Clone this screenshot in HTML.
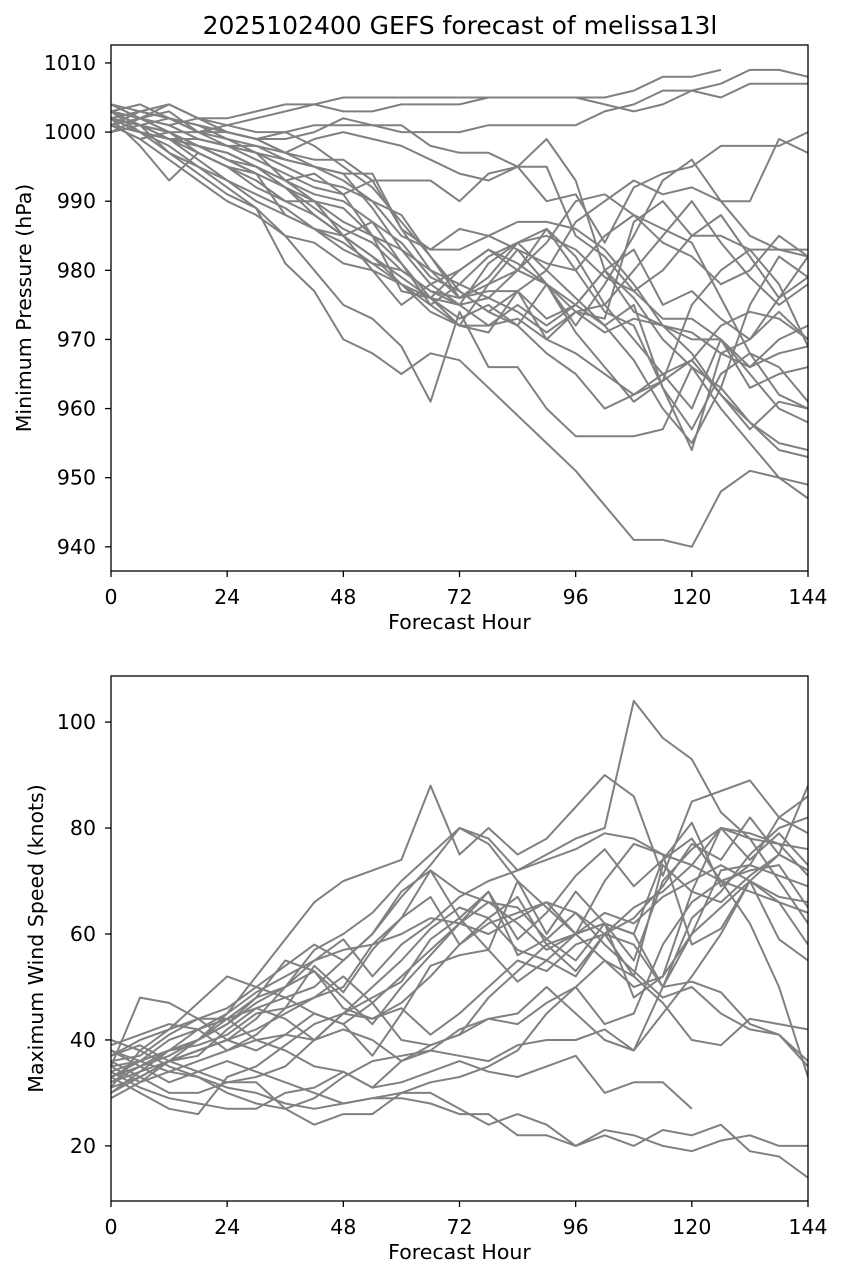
<!DOCTYPE html>
<html><head><meta charset="utf-8"><style>
body{margin:0;background:#fff}
svg text{font-family:"DejaVu Sans","Liberation Sans",sans-serif;fill:#000}
</style></head><body>
<svg id="chart" width="843" height="1279" xmlns="http://www.w3.org/2000/svg">
<rect width="843" height="1279" fill="#fff"/>
<text x="460" y="34" font-size="25" text-anchor="middle">2025102400 GEFS forecast of melissa13l</text>
<g id="top"></g><g id="bot"></g>
</svg>
<script>
const hours=[0,6,12,18,24,30,36,42,48,54,60,66,72,78,84,90,96,102,108,114,120,126,132,138,144];
const xTicks=[0,24,48,72,96,120,144];
const presTicks=[940,950,960,970,980,990,1000,1010];
const windTicks=[20,40,60,80,100];
const pressure=[
[1003,1002,1001,1002,1002,1003,1004,1004,1005,1005,1005,1005,1005,1005,1005,1005,1005,1005,1006,1008,1008,1009],
[1002,1001,1000,1000,1001,1002,1003,1004,1003,1003,1004,1004,1004,1005,1005,1005,1005,1004,1003,1004,1006,1005,1007,1007,1007],
[1001,1003,1002,1001,1000,999,1000,1001,1001,1001,1000,1000,1000,1001,1001,1001,1001,1003,1004,1006,1006,1007,1009,1009,1008,1009],
[1004,1002,1000,998,996,994,992,990,985,980,975,978,980,983,981,978,975,972,967,960,955,963,958,955,954],
[1003,1001,999,996,993,990,988,986,984,981,978,975,978,982,984,980,976,972,975,963,957,965,968,962,960],
[1003,1000,998,995,992,989,981,977,970,968,965,968,967,963,959,955,951,946,941,941,940,948,951,950,949],
[1002,1001,997,994,991,989,985,980,975,973,969,961,974,966,966,960,956,956,956,957,966,960,955,950,947],
[1001,999,996,993,990,988,985,984,981,980,978,974,972,972,975,972,975,980,976,970,966,963,975,982,979],
[1002,1000,999,997,995,993,990,990,989,985,977,976,980,983,980,978,974,971,973,972,970,970,966,970,972],
[1004,1002,1001,999,998,997,996,995,994,989,983,978,975,981,984,986,982,975,970,965,960,970,965,960,958],
[1001,1002,1004,1002,1000,999,997,995,993,990,985,983,986,985,983,981,980,985,988,984,982,978,980,985,982],
[1002,1003,1002,1001,1000,999,999,1000,1002,1001,1001,998,997,997,995,999,993,980,974,972,971,968,970,974,970],
[1003,1002,1003,1000,1000,999,997,996,996,993,993,993,990,994,995,995,985,982,977,973,973,970,963,965,966],
[1000,1001,1002,1001,999,998,996,995,994,994,986,983,983,985,987,987,986,983,978,972,968,962,958,954,953],
[1002,998,993,997,995,994,988,986,985,987,984,979,977,974,972,978,971,966,961,964,967,962,957,961,960],
[1004,1003,1002,1000,999,997,995,993,992,990,988,982,976,978,983,978,972,978,985,993,996,990,990,999,997],
[1001,1000,999,998,996,994,992,989,986,984,980,977,975,976,980,984,990,991,988,986,984,976,968,966,961],
[1002,1001,1000,998,997,995,993,991,990,987,981,976,972,971,977,970,974,973,987,990,985,985,983,983,982],
[1003,1001,999,998,996,995,992,988,985,982,979,976,973,975,972,968,965,960,962,964,975,980,983,978,969],
[1001,1000,999,999,998,998,997,999,1000,999,998,996,994,993,995,990,991,984,992,994,995,998,998,998,1000],
[1000,1002,1001,999,998,996,994,992,991,985,981,975,972,978,980,986,980,974,972,963,954,968,966,968,969],
[1002,1000,997,995,993,991,989,986,983,981,980,977,976,979,984,985,983,979,977,980,985,988,982,976,979],
[1003,1004,1002,1000,998,997,993,990,987,985,983,980,978,976,974,971,974,975,980,985,990,984,979,975,978],
[1001,999,1000,997,995,992,990,988,985,982,978,976,975,972,973,970,968,965,962,965,967,972,974,973,970],
[1002,1003,1004,1002,1001,1000,1000,998,995,992,987,982,977,974,977,980,987,990,993,991,992,990,985,983,983],
[1003,1002,1000,998,997,995,993,994,991,993,986,980,976,977,977,973,975,980,983,975,977,973,970,976,982]
];
const wind=[
[30,33,36,38,40,44,50,57,60,64,70,75,80,78,72,75,78,80,104,97,93,83,78,77,71],
[32,35,37,40,45,52,59,66,70,72,74,88,75,80,75,78,84,90,86,71,85,87,89,82,79],
[35,36,34,33,31,30,28,27,28,29,29,28,26,26,22,22,20,23,22,20,19,21,22,20,20],
[36,33,30,30,32,32,27,24,26,26,30,30,27,24,26,24,20,22,20,23,22,24,19,18,14],
[34,31,29,28,27,27,30,31,34,31,32,34,36,34,33,35,37,30,32,32,27],
[38,36,40,42,44,46,48,50,55,60,67,73,80,77,70,65,60,55,50,52,60,65,70,75,72],
[33,35,38,40,43,47,50,55,59,52,58,62,67,70,72,74,76,79,78,75,73,70,68,66,64],
[31,33,36,37,42,46,44,40,45,50,55,61,65,63,57,55,52,60,65,68,73,80,79,77,76],
[35,48,47,44,40,38,41,45,43,37,45,54,56,57,70,60,68,62,60,50,63,68,75,80,82],
[30,34,36,38,40,42,45,48,50,58,63,67,58,63,67,58,53,60,58,50,60,72,73,71,69],
[33,30,27,26,33,35,39,43,45,48,51,59,63,57,51,55,60,62,48,52,68,80,74,79,73],
[37,39,36,34,32,33,35,40,45,44,46,41,45,50,55,53,58,60,63,69,77,74,82,75,72],
[38,35,32,34,36,34,32,30,28,29,30,32,33,35,38,45,50,55,52,47,40,39,44,43,42],
[29,32,36,40,43,48,50,53,46,44,47,52,58,62,64,66,60,62,55,70,76,80,78,70,62],
[36,37,41,44,44,40,38,35,34,31,36,38,42,44,45,50,45,40,38,45,52,60,70,66,58],
[40,38,35,33,30,28,27,29,33,36,37,38,37,36,39,40,40,42,38,50,51,49,43,41,36],
[32,34,38,42,45,49,52,55,57,58,60,63,62,60,63,66,64,58,53,48,50,45,42,41,35],
[34,36,38,40,44,48,55,53,48,43,50,56,62,68,59,64,71,76,69,74,78,70,62,50,33],
[31,38,42,47,52,50,48,45,43,47,52,57,62,66,65,59,55,62,60,74,81,69,73,82,86],
[39,41,43,42,38,41,46,54,49,57,63,72,68,66,62,57,60,64,62,67,70,73,70,59,55],
[35,32,34,36,38,40,41,40,42,40,36,39,41,44,43,47,50,43,45,58,66,70,72,73,65],
[37,40,42,44,46,50,54,58,55,60,68,72,63,68,56,59,64,60,52,73,68,66,71,75,88],
[33,36,38,39,41,45,46,48,52,47,40,39,41,48,53,58,60,70,77,75,58,61,70,67,66]
];
const NS='http://www.w3.org/2000/svg';
function mk(tag,attrs,parent){const e=document.createElementNS(NS,tag);for(const k in attrs)e.setAttribute(k,attrs[k]);parent.appendChild(e);return e;}
function panel(g,top,bottom,yMin,yMax,yTicks,series,ylabel,ylabX,prefix){
  const L=111,R=808;
  const xs=h=>L+(h/144)*(R-L);
  const ys=v=>bottom-(v-yMin)/(yMax-yMin)*(bottom-top);
  const clip=mk('clipPath',{id:prefix+'clip'},g);
  mk('rect',{x:L,y:top,width:R-L,height:bottom-top},clip);
  const lines=mk('g',{'clip-path':'url(#'+prefix+'clip)'},g);
  
  
  series.forEach((s,i)=>{
    const d=s.map((v,j)=>(j?'L':'M')+xs(hours[j]).toFixed(1)+','+ys(v).toFixed(1)).join('');
    const p=mk('path',{d:d,fill:'none',stroke:'#808080','stroke-width':2,'stroke-linejoin':'round'},lines);
    
    
  });
  const frame=mk('rect',{x:L,y:top,width:R-L,height:bottom-top,fill:'none',stroke:'#000','stroke-width':1.3},g);
  
  
  xTicks.forEach(t=>{
    const x=xs(t);
    mk('line',{x1:x,x2:x,y1:bottom,y2:bottom+6,stroke:'#000','stroke-width':1.3},g);
    const tx=mk('text',{x:x,y:bottom+33,'font-size':20.5,'text-anchor':'middle'},g);
    tx.textContent=t;
    
    
  });
  yTicks.forEach(t=>{
    const y=ys(t);
    mk('line',{x1:L-6,x2:L,y1:y,y2:y,stroke:'#000','stroke-width':1.3},g);
    const tx=mk('text',{x:L-15,y:y+7,'font-size':20.5,'text-anchor':'end'},g);
    tx.textContent=t;
    
    
  });
  const xl=mk('text',{x:(L+R)/2,y:bottom+58,'font-size':20.5,'text-anchor':'middle'},g);
  xl.textContent='Forecast Hour';
  
  
  const cy=(top+bottom)/2;
  const yl=mk('text',{x:ylabX,y:cy,'font-size':20.5,'text-anchor':'middle',transform:'rotate(-90 '+ylabX+' '+cy+')'},g);
  yl.textContent=ylabel;
  
  
}
const gt=document.getElementById('top');


const gb=document.getElementById('bot');


panel(gt,45,571,936.5,1012.6,presTicks,pressure,'Minimum Pressure (hPa)',31,'pressure');
panel(gb,676,1201,9.6,108.7,windTicks,wind,'Maximum Wind Speed (knots)',43,'wind');
</script>
</body></html>
